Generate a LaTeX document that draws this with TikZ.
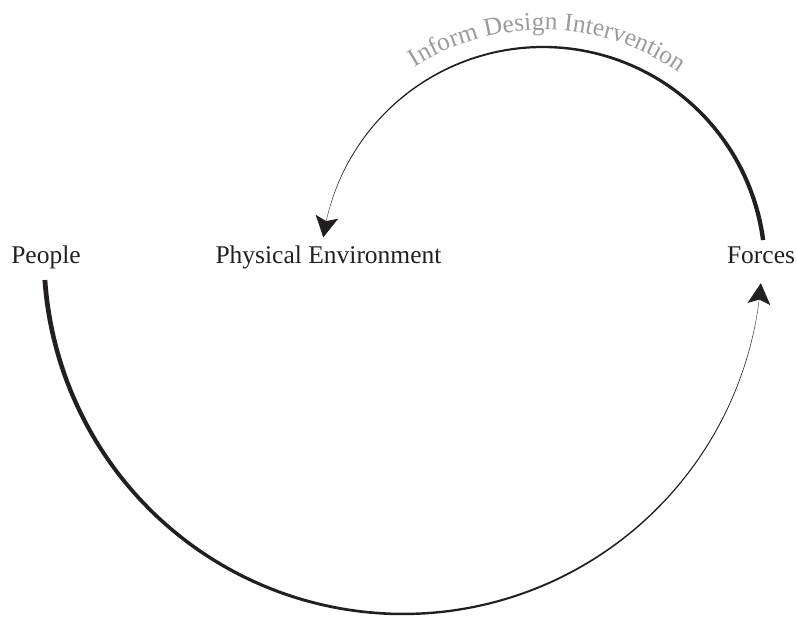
\documentclass[tikz,border=0pt]{standalone}
\usepackage{fontspec}
\setmainfont{Liberation Serif}
\usetikzlibrary{decorations.text}
\definecolor{inkc}{RGB}{35,31,32}
\definecolor{textgray}{RGB}{155,155,155}
\newcommand{\lblfont}{\fontsize{25.5}{30}\selectfont}
\newcommand{\curvefont}{\fontsize{25.5}{30}\selectfont}
\tikzset{
  lbl/.style={font=\lblfont, text=inkc, inner sep=0pt, anchor=base},
  tip/.style={fill=inkc},
}
\begin{document}
\begin{tikzpicture}[x=1pt,y=1pt]
\useasboundingbox (0,0) rectangle (797,618);
% labels
\node[lbl] (people) at (46,354) {People};
\node[lbl] (physenv) at (328.5,354) {Physical Environment};
\node[lbl] (forces) at (761,354) {Forces};
% centres of the two arcs
\coordinate (ctrB) at (403,363);
\coordinate (ctrT) at (543,349);
\coordinate (tipB) at ([shift={(355.5:359)}]ctrB);
\coordinate (tipT) at ([shift={(171.8:222)}]ctrT);
% bottom tapered arc: People -> Forces
\fill[inkc] plot[domain=184:353, samples=150]
   ({403+(359+0.5*(4.8-4.5*(\x-184)/169))*cos(\x)},{363+(359+0.5*(4.8-4.5*(\x-184)/169))*sin(\x)})
   -- plot[domain=353:184, samples=150]
   ({403+(359-0.5*(4.8-4.5*(\x-184)/169))*cos(\x)},{363+(359-0.5*(4.8-4.5*(\x-184)/169))*sin(\x)})
   -- cycle;
% top tapered arc: Forces -> Physical Environment
\fill[inkc] plot[domain=7.5:168, samples=150]
   ({543+(222+0.5*(4.4-4.1*(\x-7.5)/160.5))*cos(\x)},{349+(222+0.5*(4.4-4.1*(\x-7.5)/160.5))*sin(\x)})
   -- plot[domain=168:7.5, samples=150]
   ({543+(222-0.5*(4.4-4.1*(\x-7.5)/160.5))*cos(\x)},{349+(222-0.5*(4.4-4.1*(\x-7.5)/160.5))*sin(\x)})
   -- cycle;
% arrowheads
\begin{scope}[shift={(tipB)}, rotate=84.5]
  \fill[tip] (0,0) -- (-21,11.5) -- (-16.5,0) -- (-21,-11.5) -- cycle;
\end{scope}
\begin{scope}[shift={(tipT)}, rotate=260]
  \fill[tip] (0,0) -- (-21,11.5) -- (-16.5,0) -- (-21,-11.5) -- cycle;
\end{scope}
% curved label
\path[decorate, decoration={text along path, text align=center,
   text={|\curvefont\color{textgray}|Inform Design Intervention}}]
   ([shift={(136:239)}]ctrT) arc[start angle=136, end angle=41.6, radius=239];
\end{tikzpicture}
\end{document}
